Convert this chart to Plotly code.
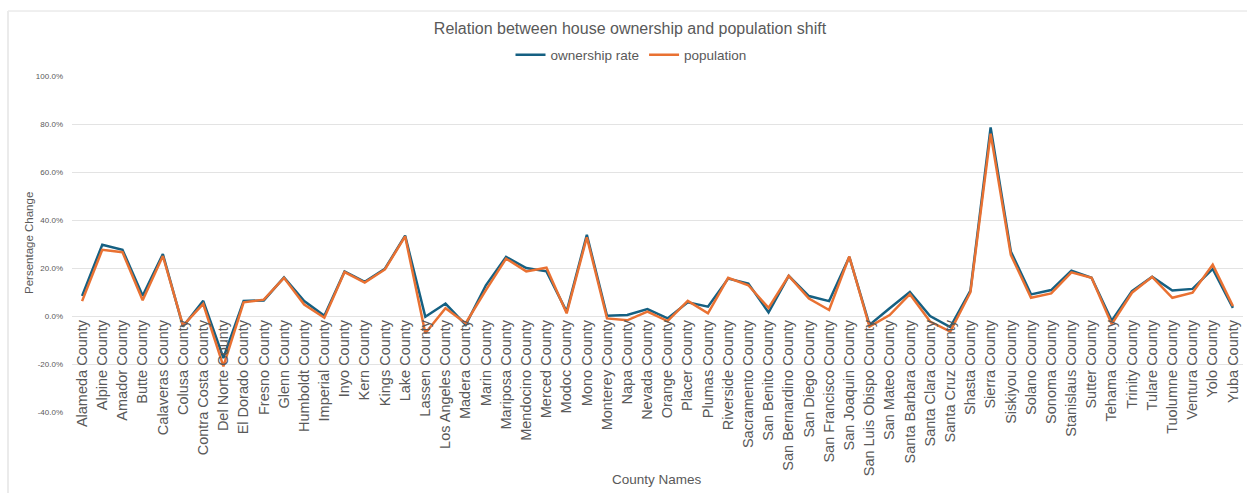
import plotly.graph_objects as go

counties = ["Alameda County", "Alpine County", "Amador County", "Butte County", "Calaveras County",
            "Colusa County", "Contra Costa County", "Del Norte County", "El Dorado County", "Fresno County",
            "Glenn County", "Humboldt County", "Imperial County", "Inyo County", "Kern County",
            "Kings County", "Lake County", "Lassen County", "Los Angeles County", "Madera County",
            "Marin County", "Mariposa County", "Mendocino County", "Merced County", "Modoc County",
            "Mono County", "Monterey County", "Napa County", "Nevada County", "Orange County",
            "Placer County", "Plumas County", "Riverside County", "Sacramento County", "San Benito County",
            "San Bernardino County", "San Diego County", "San Francisco County", "San Joaquin County",
            "San Luis Obispo County", "San Mateo County", "Santa Barbara County", "Santa Clara County",
            "Santa Cruz County", "Shasta County", "Sierra County", "Siskiyou County", "Solano County",
            "Sonoma County", "Stanislaus County", "Sutter County", "Tehama County", "Trinity County",
            "Tulare County", "Tuolumne County", "Ventura County", "Yolo County", "Yuba County"]

ownership_rate = [8.4, 29.7, 27.6, 8.4, 25.8,
                  -4.4, 6.3, -17.5, 6.3, 6.5,
                  16.1, 6.2, 0.1, 18.6, 14.2,
                  19.7, 33.5, -0.3, 5.2, -3.7,
                  12.8, 24.6, 20.0, 18.6, 1.8,
                  33.8, 0.1, 0.4, 2.9, -1.0,
                  5.7, 3.9, 15.6, 13.5, 1.5,
                  16.7, 8.3, 6.2, 24.6,
                  -3.7, 3.2, 10.0, 0.0,
                  -4.6, 10.6, 78.6, 26.9, 9.0,
                  10.8, 18.9, 15.9, -2.0, 10.4,
                  16.3, 10.6, 11.3, 19.6, 3.4]

population = [6.2, 27.6, 26.6, 6.6, 25.0,
              -4.0, 5.0, -21.0, 5.7, 6.8,
              15.9, 4.8, -0.7, 18.3, 13.9,
              19.4, 33.2, -7.2, 3.2, -3.0,
              10.8, 23.9, 18.6, 20.1, 1.1,
              32.8, -1.0, -1.8, 1.8, -2.1,
              6.3, 1.1, 15.9, 12.8, 3.4,
              16.7, 7.3, 2.5, 24.8,
              -4.4, 0.4, 9.1, -2.3,
              -6.5, 9.9, 76.0, 25.5, 7.6,
              9.4, 18.2, 15.9, -3.4, 9.7,
              16.3, 7.6, 9.7, 21.4, 4.1]

y_ticks = [-40, -20, 0, 20, 40, 60, 80, 100]

FONT = "Liberation Sans, Arial, sans-serif"
GRAY = "#595959"

fig = go.Figure()
fig.add_trace(go.Scatter(x=counties, y=ownership_rate, mode="lines", name="ownership rate",
                         line=dict(color="#156082", width=2.5)))
fig.add_trace(go.Scatter(x=counties, y=population, mode="lines", name="population",
                         line=dict(color="#E97132", width=2.5)))

ymin, ymax = -40, 100
zero_frac = (0 - ymin) / (ymax - ymin)

fig.update_layout(
    width=1247, height=493,
    margin=dict(l=72, r=4, t=76, b=81),
    paper_bgcolor="white", plot_bgcolor="white",
    font=dict(family=FONT, color=GRAY),
    title=dict(text="Relation between house ownership and population shift",
               x=630 / 1247, xref="container", xanchor="center", y=1 - 28 / 493, yanchor="middle",
               font=dict(size=16, color=GRAY, family=FONT)),
    legend=dict(orientation="h", x=(631 - 72) / 1171, xanchor="center", xref="paper",
                y=(412 - 55) / 336, yanchor="middle",
                font=dict(size=13.5, color=GRAY, family=FONT),
                itemwidth=30, tracegroupgap=0, bgcolor="rgba(0,0,0,0)"),
    showlegend=True,
    xaxis=dict(type="category", anchor="free", position=zero_frac,
               tickangle=-90, tickfont=dict(size=14.5, color=GRAY, family=FONT),
               showgrid=False, showline=False, ticks="", zeroline=False,
               range=[-0.5, len(counties) - 0.5]),
    yaxis=dict(range=[ymin, ymax], tickvals=y_ticks, ticktext=[f"{v:.1f}%" for v in y_ticks],
               tickfont=dict(size=8, color=GRAY, family=FONT),
               showgrid=True, gridcolor="#e3e3e3", gridwidth=1, zeroline=False,
               showline=False, ticks="", ticklabelstandoff=8),
)

fig.add_annotation(text="County Names", xref="paper", yref="paper", x=(657 - 72) / 1171,
                   y=(412 - 479) / 336, xanchor="center", yanchor="middle",
                   showarrow=False, font=dict(size=13.5, color=GRAY, family=FONT))
fig.add_annotation(text="Persentage Change", xref="paper", yref="paper",
                   x=(29 - 72) / 1171, y=(412 - 243) / 336, textangle=-90,
                   xanchor="center", yanchor="middle", showarrow=False,
                   font=dict(size=11.5, color=GRAY, family=FONT))

# chart border (top and left)
fig.add_shape(type="line", xref="paper", yref="paper",
              x0=(8 - 72) / 1171, x1=(1247 - 72) / 1171, y0=(412 - 11) / 336, y1=(412 - 11) / 336,
              line=dict(color="#e0e0e0", width=1))
fig.add_shape(type="line", xref="paper", yref="paper",
              x0=(8 - 72) / 1171, x1=(8 - 72) / 1171, y0=(412 - 11) / 336, y1=(412 - 493) / 336,
              line=dict(color="#ebebeb", width=2))

fig.write_html("out.html")
